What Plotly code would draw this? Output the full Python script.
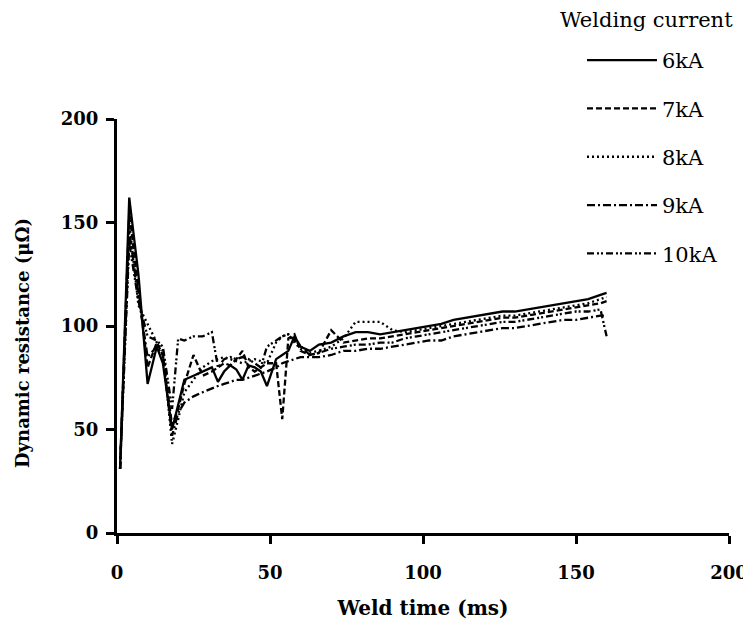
import plotly.graph_objects as go

weld_time = [1, 4, 7, 10, 13, 15, 18, 20, 22, 25, 28, 31, 33, 35, 37, 39, 41, 43, 45, 47,
             49, 52, 54, 56, 58, 60, 63, 66, 70, 74, 78, 82, 86, 90, 94, 98, 102, 106, 110,
             114, 118, 122, 126, 130, 134, 138, 142, 146, 150, 154, 158, 160]

r_6kA = [31, 162, 125, 72, 90, 82, 50, 62, 74, 76, 78, 80, 73, 78, 81, 79, 74, 81, 80, 78,
         71, 84, 86, 88, 95, 90, 88, 91, 92, 95, 97, 97, 96, 97, 98, 99, 100, 101, 103,
         104, 105, 106, 107, 107, 108, 109, 110, 111, 112, 113, 115, 116]

r_7kA = [31, 155, 118, 80, 92, 86, 52, 60, 72, 86, 76, 78, 80, 82, 81, 84, 88, 80, 78, 80,
         82, 82, 55, 94, 96, 88, 86, 87, 98, 92, 93, 94, 94, 95, 96, 97, 98, 99, 100,
         101, 102, 103, 104, 104, 105, 106, 107, 108, 109, 110, 111, 112]

r_8kA = [31, 150, 110, 101, 92, 88, 43, 55, 68, 74, 80, 83, 84, 85, 84, 83, 82, 83, 84, 83,
         82, 92, 95, 96, 92, 89, 87, 88, 90, 94, 102, 102, 102, 98, 97, 98, 99, 100, 101,
         102, 103, 104, 105, 105, 106, 107, 108, 109, 110, 111, 113, 114]

r_9kA = [31, 145, 115, 85, 90, 86, 47, 58, 63, 66, 68, 70, 71, 72, 73, 74, 74, 75, 76, 77,
         78, 80, 82, 83, 84, 85, 85, 85, 86, 88, 88, 89, 89, 90, 91, 92, 93, 93, 95,
         96, 97, 98, 99, 99, 100, 101, 102, 103, 103, 104, 105, 105]

r_10kA = [31, 140, 112, 95, 93, 90, 60, 94, 93, 95, 95, 97, 80, 84, 85, 84, 85, 84, 82, 80,
          90, 93, 95, 96, 93, 90, 86, 87, 89, 90, 91, 91, 92, 92, 94, 95, 96, 97, 98,
          99, 100, 101, 102, 102, 103, 104, 105, 106, 107, 107, 108, 95]

series_names = ["6kA", "7kA", "8kA", "9kA", "10kA"]
series_values = [r_6kA, r_7kA, r_8kA, r_9kA, r_10kA]
dash_styles = ["solid", "6px,3px", "2px,3px", "8px,3px,2px,3px", "7px,3px,2px,2px,2px,3px"]

x_ticks = [0, 50, 100, 150, 200]
y_ticks = [0, 50, 100, 150, 200]

legend_title = "Welding current"
x_title = "Weld time (ms)"
y_title = "Dynamic resistance (μΩ)"

FONT = "DejaVu Serif"

# plot area (figure coordinates): x 109..721, y 111..525
L, R, T, B = 109, 30, 111, 99
PW, PH = 751 - L - R, 624 - T - B

fig = go.Figure()
for name, vals, dash in zip(series_names, series_values, dash_styles):
    fig.add_trace(go.Scatter(
        x=weld_time, y=vals, mode="lines", name=name,
        legendgroup=name,
        line=dict(color="black", width=2.3, dash=dash),
    ))

axis_common = dict(
    showline=True, linecolor="black", linewidth=3,
    ticks="outside", ticklen=8, tickwidth=3, tickcolor="black",
    showgrid=False, zeroline=False,
    tickfont=dict(family=FONT, size=18, color="black", weight="bold"),
)

fig.update_layout(
    width=751, height=624,
    paper_bgcolor="white", plot_bgcolor="white",
    margin=dict(l=L, r=R, t=T, b=B, autoexpand=False),
    font=dict(family=FONT, color="black"),
    xaxis=dict(range=[0, 200], tickvals=x_ticks, ticklabelstandoff=13,
               title=dict(text="<b>" + x_title + "</b>", font=dict(family=FONT, size=20), standoff=20),
               **axis_common),
    yaxis=dict(range=[0, 200], tickvals=y_ticks, ticklabelstandoff=4,
               **axis_common),
    showlegend=True,
    legend=dict(
        xref="container", yref="container",
        x=574 / 751, y=1 - 32 / 624, xanchor="left", yanchor="top",
        bgcolor="rgba(0,0,0,0)",
        font=dict(family=FONT, size=21, color="black"),
        tracegroupgap=18,
        itemwidth=70,
    ),
    annotations=[
        dict(
            text=legend_title, xref="paper", yref="paper",
            x=(550 - L) / PW, y=(624 - B - 12) / PH,
            xanchor="left", yanchor="middle", showarrow=False,
            font=dict(family=FONT, size=21, color="black"),
        ),
        dict(
            text="<b>" + y_title + "</b>", xref="paper", yref="paper",
            x=(14 - L) / PW, y=(624 - B - 335) / PH,
            xanchor="center", yanchor="middle", textangle=-90, showarrow=False,
            font=dict(family=FONT, size=18, color="black"),
        ),
    ],
)

fig.write_html("out.html")
